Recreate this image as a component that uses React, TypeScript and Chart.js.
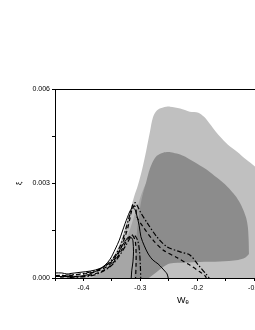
import React, { useEffect, useRef } from 'react';
import { Chart, registerables } from 'chart.js';

Chart.register(...registerables);

// axis ranges and ticks
const xRange = [-0.45, 0];
const yRange = [0, 0.006];
const xStep = 0.05;
const yStep = 0.0015;

// filled regions (upper boundaries, filled down to 0)
const lightX = [-0.441, -0.406, -0.38, -0.362, -0.348, -0.337, -0.329, -0.322, -0.316, -0.311, -0.304, -0.297, -0.29, -0.283, -0.278, -0.271, -0.26, -0.248, -0.23, -0.213, -0.198, -0.188, -0.181, -0.17, -0.16, -0.146, -0.13, -0.114, -0.098, -0.081, -0.063, -0.037, -0.01, 0.0];
const lightY = [0.000016, 0.00008, 0.00019, 0.00038, 0.00067, 0.00105, 0.00146, 0.00191, 0.00226, 0.00258, 0.00296, 0.00344, 0.00401, 0.00465, 0.00509, 0.00532, 0.00541, 0.00544, 0.00538, 0.00528, 0.00525, 0.00512, 0.00497, 0.00471, 0.00449, 0.00423, 0.00401, 0.00376, 0.00353, 0.00318, 0.00264, 0.00153, 0.00025, 0];

const mediumX = [-0.385, -0.371, -0.353, -0.339, -0.329, -0.322, -0.315, -0.309, -0.304, -0.299, -0.292, -0.288, -0.286];
const mediumY = [0, 0.00016, 0.00041, 0.0007, 0.00102, 0.00134, 0.00172, 0.00207, 0.00232, 0.00261, 0.00293, 0.00302, 0];

const darkX = [-0.311, -0.308, -0.306, -0.302, -0.299, -0.295, -0.29, -0.285, -0.279, -0.271, -0.26, -0.251, -0.242, -0.23, -0.218, -0.2, -0.183, -0.165, -0.147, -0.133, -0.125, -0.119, -0.114, -0.111, -0.1096, -0.109, -0.108];
const darkY = [0, 0.00073, 0.00146, 0.00201, 0.00239, 0.00271, 0.00302, 0.00337, 0.00366, 0.00388, 0.00398, 0.004, 0.00398, 0.00392, 0.00382, 0.00363, 0.00344, 0.00318, 0.0029, 0.00261, 0.00239, 0.00216, 0.00191, 0.00162, 0.00121, 0.00073, 0];

const stripX = [-0.285, -0.278, -0.269, -0.26, -0.248, -0.221, -0.195, -0.16, -0.128, -0.116, -0.109, -0.103, -0.096, -0.093];
const stripY = [0, 0.000095, 0.00022, 0.00035, 0.00046, 0.00049, 0.00051, 0.00052, 0.00057, 0.00064, 0.00076, 0.00089, 0.00089, 0];

// contour lines
const solidOuterX = [-0.45, -0.438, -0.429, -0.424, -0.406, -0.388, -0.371, -0.362, -0.353, -0.344, -0.337, -0.332, -0.327, -0.323, -0.318, -0.313, -0.309, -0.306, -0.302, -0.299, -0.293, -0.286, -0.278, -0.269, -0.262, -0.257, -0.253, -0.251];
const solidOuterY = [0.00016, 0.00016, 0.000127, 0.00014, 0.00018, 0.00022, 0.0003, 0.00041, 0.0006, 0.00092, 0.0012, 0.00146, 0.00172, 0.00191, 0.00213, 0.00223, 0.00216, 0.00197, 0.00166, 0.00131, 0.00102, 0.00076, 0.00057, 0.00045, 0.00032, 0.00022, 0.00013, 0];

const dashDotOuterX = [-0.45, -0.424, -0.406, -0.388, -0.371, -0.357, -0.346, -0.337, -0.33, -0.325, -0.32, -0.316, -0.313, -0.309, -0.306, -0.3, -0.288, -0.271, -0.253, -0.23, -0.213, -0.198, -0.183, -0.179];
const dashDotOuterY = [0.00008, 0.000095, 0.000127, 0.00019, 0.00029, 0.00045, 0.00067, 0.00095, 0.00127, 0.00159, 0.00191, 0.00216, 0.00234, 0.00239, 0.00232, 0.0021, 0.00175, 0.00131, 0.00099, 0.00083, 0.00073, 0.00041, 0.000095, 0];

const dashedOuterX = [-0.45, -0.415, -0.388, -0.371, -0.357, -0.346, -0.337, -0.33, -0.323, -0.318, -0.315, -0.311, -0.308, -0.306, -0.295, -0.278, -0.26, -0.235, -0.213, -0.195, -0.186, -0.184];
const dashedOuterY = [0.000064, 0.000095, 0.00016, 0.00025, 0.00038, 0.00057, 0.00083, 0.00115, 0.00153, 0.00191, 0.00216, 0.00229, 0.00223, 0.00194, 0.00162, 0.00121, 0.00089, 0.00064, 0.00041, 0.00019, 0.000064, 0];

const solidInnerX = [-0.45, -0.424, -0.397, -0.374, -0.362, -0.351, -0.343, -0.334, -0.329, -0.325, -0.322, -0.318, -0.315, -0.313, -0.312, -0.313, -0.315, -0.316];
const solidInnerY = [0.000048, 0.000048, 0.00008, 0.00025, 0.00038, 0.00051, 0.0007, 0.00095, 0.00111, 0.00121, 0.00129, 0.0013, 0.00127, 0.00118, 0.00083, 0.00051, 0.00025, 0];

const dashedInnerX = [-0.441, -0.397, -0.371, -0.353, -0.339, -0.329, -0.322, -0.316, -0.313, -0.309, -0.3075, -0.3075, -0.3084];
const dashedInnerY = [0.00003, 0.000064, 0.00019, 0.00038, 0.0007, 0.00102, 0.00124, 0.00135, 0.00134, 0.00118, 0.00083, 0.00041, 0];

const dashDotInnerX = [-0.424, -0.388, -0.368, -0.35, -0.336, -0.325, -0.318, -0.313, -0.308, -0.304, -0.3014, -0.3, -0.2993];
const dashDotInnerY = [0.000016, 0.000064, 0.00019, 0.00041, 0.00073, 0.00105, 0.00127, 0.00137, 0.00131, 0.00115, 0.00083, 0.00041, 0];

const xTitle = 'Wₑ';
const yTitle = 'ξ';

const pts = (xs: number[], ys: number[]) => xs.map((x, i) => ({ x, y: ys[i] }));

const area = (label: string, xs: number[], ys: number[], color: string, order: number) => ({
  label,
  data: pts(xs, ys),
  borderColor: 'transparent',
  borderWidth: 0,
  backgroundColor: color,
  fill: 'origin',
  pointRadius: 0,
  tension: 0.3,
  order,
});

const curve = (label: string, xs: number[], ys: number[], dash: number[], width: number) => ({
  label,
  data: pts(xs, ys),
  borderColor: '#000',
  borderWidth: width,
  borderDash: dash,
  backgroundColor: 'transparent',
  fill: false,
  pointRadius: 0,
  tension: 0.3,
  order: 0,
});

const FONT = "'Liberation Sans', Arial, sans-serif";

export default function App() {
  const ref = useRef<HTMLCanvasElement | null>(null);
  useEffect(() => {
    if (!ref.current) return;
    const isMult = (v: number, s: number) => Math.abs(v / s - Math.round(v / s)) < 1e-6;
    const chart = new Chart(ref.current, {
      type: 'line',
      data: {
        datasets: [
          curve('solid outer', solidOuterX, solidOuterY, [], 1),
          curve('dash-dot outer', dashDotOuterX, dashDotOuterY, [5, 2, 1.5, 2], 1.2),
          curve('dashed outer', dashedOuterX, dashedOuterY, [4, 3], 1.2),
          curve('solid inner', solidInnerX, solidInnerY, [], 1),
          curve('dashed inner', dashedInnerX, dashedInnerY, [4, 3], 1.2),
          curve('dash-dot inner', dashDotInnerX, dashDotInnerY, [5, 2, 1.5, 2], 1.2),
          area('strip', stripX, stripY, '#c0c0c0', 2),
          area('dark', darkX, darkY, '#8c8c8c', 3),
          area('medium', mediumX, mediumY, '#a6a6a6', 4),
          area('light', lightX, lightY, '#c0c0c0', 5),
        ] as any,
      },
      options: {
        animation: false,
        responsive: true,
        maintainAspectRatio: false,
        layout: { padding: { top: 81, right: 10, left: 0, bottom: 0 } },
        plugins: { legend: { display: false }, tooltip: { enabled: false } },
        scales: {
          x: {
            type: 'linear',
            position: 'bottom',
            min: xRange[0],
            max: xRange[1],
            afterFit: (s: any) => { s.height = 44; },
            ticks: {
              stepSize: xStep,
              autoSkip: false,
              maxRotation: 0,
              padding: 3,
              color: '#000',
              font: { family: FONT, size: 7 },
              callback: (v: any) => (isMult(Number(v), 0.1) ? Number(v).toFixed(1) : ''),
            },
            grid: { display: true, drawOnChartArea: false, drawTicks: true, tickLength: 3, color: '#000' },
            border: { display: true, color: '#000', width: 1 },
            title: { display: true, text: xTitle, color: '#000', font: { family: FONT, size: 9 }, padding: { top: 0, bottom: 16 } },
          },
          x2: {
            type: 'linear',
            position: 'top',
            min: xRange[0],
            max: xRange[1],
            afterFit: (s: any) => { s.height = 0; },
            ticks: { display: false },
            grid: { display: false, drawTicks: false },
            border: { display: true, color: '#000', width: 1 },
          },
          y: {
            type: 'linear',
            position: 'left',
            min: yRange[0],
            max: yRange[1],
            afterFit: (s: any) => { s.width = 47; },
            ticks: {
              stepSize: yStep,
              autoSkip: false,
              padding: 2,
              color: '#000',
              font: { family: FONT, size: 7 },
              callback: (v: any) => (isMult(Number(v), 0.003) ? Number(v).toFixed(3) : ''),
            },
            grid: { display: true, drawOnChartArea: false, drawTicks: true, tickLength: 3, color: '#000' },
            border: { display: true, color: '#000', width: 1 },
            title: { display: true, text: yTitle, color: '#000', font: { family: FONT, size: 8 }, padding: { top: 6, bottom: 0 } },
          },
        },
      } as any,
    });
    return () => chart.destroy();
  }, []);
  return (
    <div style={{ position: 'fixed', left: 8, top: 8, width: 247, height: 314, overflow: 'hidden' }}>
      <div style={{ width: 313, height: 314, position: 'relative' }}>
        <canvas ref={ref} />
      </div>
    </div>
  );
}
